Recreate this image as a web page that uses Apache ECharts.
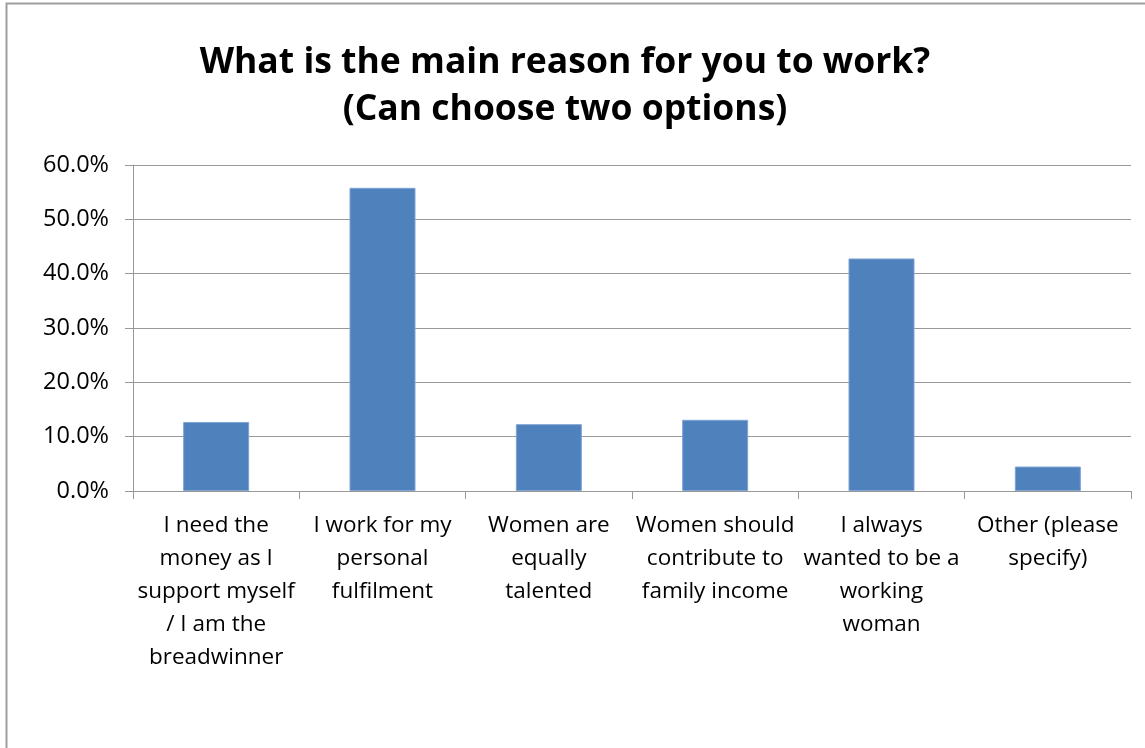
<!DOCTYPE html>
<html>
<head>
<meta charset="utf-8">
<script src="https://cdn.jsdelivr.net/npm/echarts@6/dist/echarts.min.js"></script>
<style>
  html, body { margin: 0; padding: 0; background: #fff; }
  #main { width: 1145px; height: 748px; }
</style>
</head>
<body>
<div id="main"></div>
<script>
// chart data
const titleLines = ["What is the main reason for you to work?", "(Can choose two options)"];
const categories = [
  "I need the\nmoney as I\nsupport myself\n/ I am the\nbreadwinner",
  "I work for my\npersonal\nfulfilment",
  "Women are\nequally\ntalented",
  "Women should\ncontribute to\nfamily income",
  "I always\nwanted to be a\nworking\nwoman",
  "Other (please\nspecify)"
];
const shares = [12.7, 55.8, 12.3, 13.1, 42.8, 4.5];
const yTicks = [0, 10, 20, 30, 40, 50, 60];

const font = "'Open Sans', sans-serif";

const chart = echarts.init(document.getElementById("main"));

const option = {
  backgroundColor: "#fff",
  animation: false,
  title: {
    text: titleLines.join("\n"),
    left: 560,
    top: 34,
    textAlign: "center",
    textStyle: {
      fontFamily: font,
      fontSize: 35.5,
      fontWeight: "bold",
      color: "#000",
      lineHeight: 47
    }
  },
  grid: { left: 133, right: 14, top: 165, bottom: 257 },
  xAxis: {
    type: "category",
    data: categories,
    axisLine: { lineStyle: { color: "#999", width: 1 } },
    axisTick: { show: true, length: 8, lineStyle: { color: "#999" } },
    axisLabel: {
      interval: 0,
      margin: 18,
      fontFamily: font,
      fontSize: 22.5,
      color: "#000",
      lineHeight: 33,
      align: "center"
    }
  },
  yAxis: {
    type: "value",
    min: yTicks[0],
    max: yTicks[yTicks.length - 1],
    interval: 10,
    axisLine: { show: true, lineStyle: { color: "#999" } },
    axisTick: { show: true, length: 8, lineStyle: { color: "#999" } },
    splitLine: { lineStyle: { color: "#999", width: 1 } },
    axisLabel: {
      margin: 24,
      fontFamily: font,
      fontSize: 23.5,
      color: "#000",
      formatter: v => v.toFixed(1) + "%"
    }
  },
  series: [{
    type: "bar",
    data: shares,
    barWidth: 66,
    itemStyle: { color: "#4F81BD", borderColor: "#7fa3d3", borderWidth: 1 }
  }],
  graphic: [{
    type: "rect",
    shape: { x: 6.5, y: 3.5, width: 1300, height: 900 },
    style: { fill: null, stroke: "#9d9d9d", lineWidth: 2 },
    silent: true
  }]
};

chart.setOption(option);
</script>
</body>
</html>
